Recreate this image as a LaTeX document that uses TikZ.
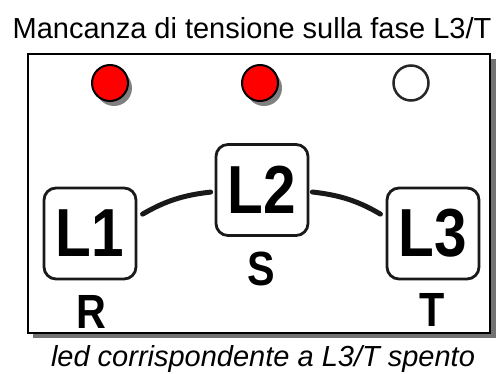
\documentclass[tikz,border=0pt]{standalone}
\usepackage{fontspec}
\setmainfont{Liberation Sans}
\newcommand{\narrowtxt}[1]{\scalebox{0.86}[1]{#1}}
\begin{document}
\begin{tikzpicture}[x=1pt,y=-1pt,
  phasebox/.style={draw=black!90, line width=2.8pt, rounded corners=12pt, minimum width=92pt, minimum height=91pt, inner sep=0pt, fill=white,
    font=\fontsize{68}{68}\selectfont\bfseries},
  phaselbl/.style={anchor=base, inner sep=0pt, font=\fontsize{48}{48}\selectfont\bfseries},
  ledon/.style={circle, draw=black, line width=2pt, fill=red, minimum size=36pt, inner sep=0pt},
  ledoff/.style={circle, draw=black!85, line width=2.5pt, fill=white, minimum size=35pt, inner sep=0pt},
  ledshadow/.style={circle, fill=black!50, minimum size=36pt, inner sep=0pt},
  wire/.style={line width=5pt, line cap=round, black!90},
  caption/.style={anchor=base, inner sep=0pt, font=\fontsize{29}{29}\selectfont}]
\useasboundingbox (0,0) rectangle (496,374);
% frame with shadow
\fill[black!55] (33,59) rectangle (496,338);
\draw[line width=2pt, fill=white] (28,54) rectangle (490,333);
% title and caption
\node[caption] (title) at (252,39) {Mancanza di tensione sulla fase L3/T};
\node[caption, font=\fontsize{29}{29}\selectfont\itshape] (cap) at (263,367) {led corrispondente a L3/T spento};
% LEDs
\node[ledshadow] (s1) at (114,88) {};
\node[ledshadow] (s2) at (264,88) {};
\node[ledon] (led1) at (110,83) {};
\node[ledon] (led2) at (260,83) {};
\node[ledoff] (led3) at (411,83) {};
% boxes
\node[phasebox] (L1) at (90,233.5) {\narrowtxt{L1}};
\node[phasebox] (L2) at (262,190) {\narrowtxt{L2}};
\node[phasebox] (L3) at (433,233.5) {\narrowtxt{L3}};
% labels
\node[phaselbl] (R) at (91.5,329) {\narrowtxt{R}};
\node[phaselbl] (S) at (261,286) {\narrowtxt{S}};
\node[phaselbl] (T) at (432.5,327) {\narrowtxt{T}};
% wires
\draw[wire, shorten <=6pt, shorten >=4pt] (L1.19) to[bend left=12] (L2.182);
\draw[wire, shorten <=3pt, shorten >=6pt] (L2.358) to[bend left=12] (L3.161);
\end{tikzpicture}
\end{document}
